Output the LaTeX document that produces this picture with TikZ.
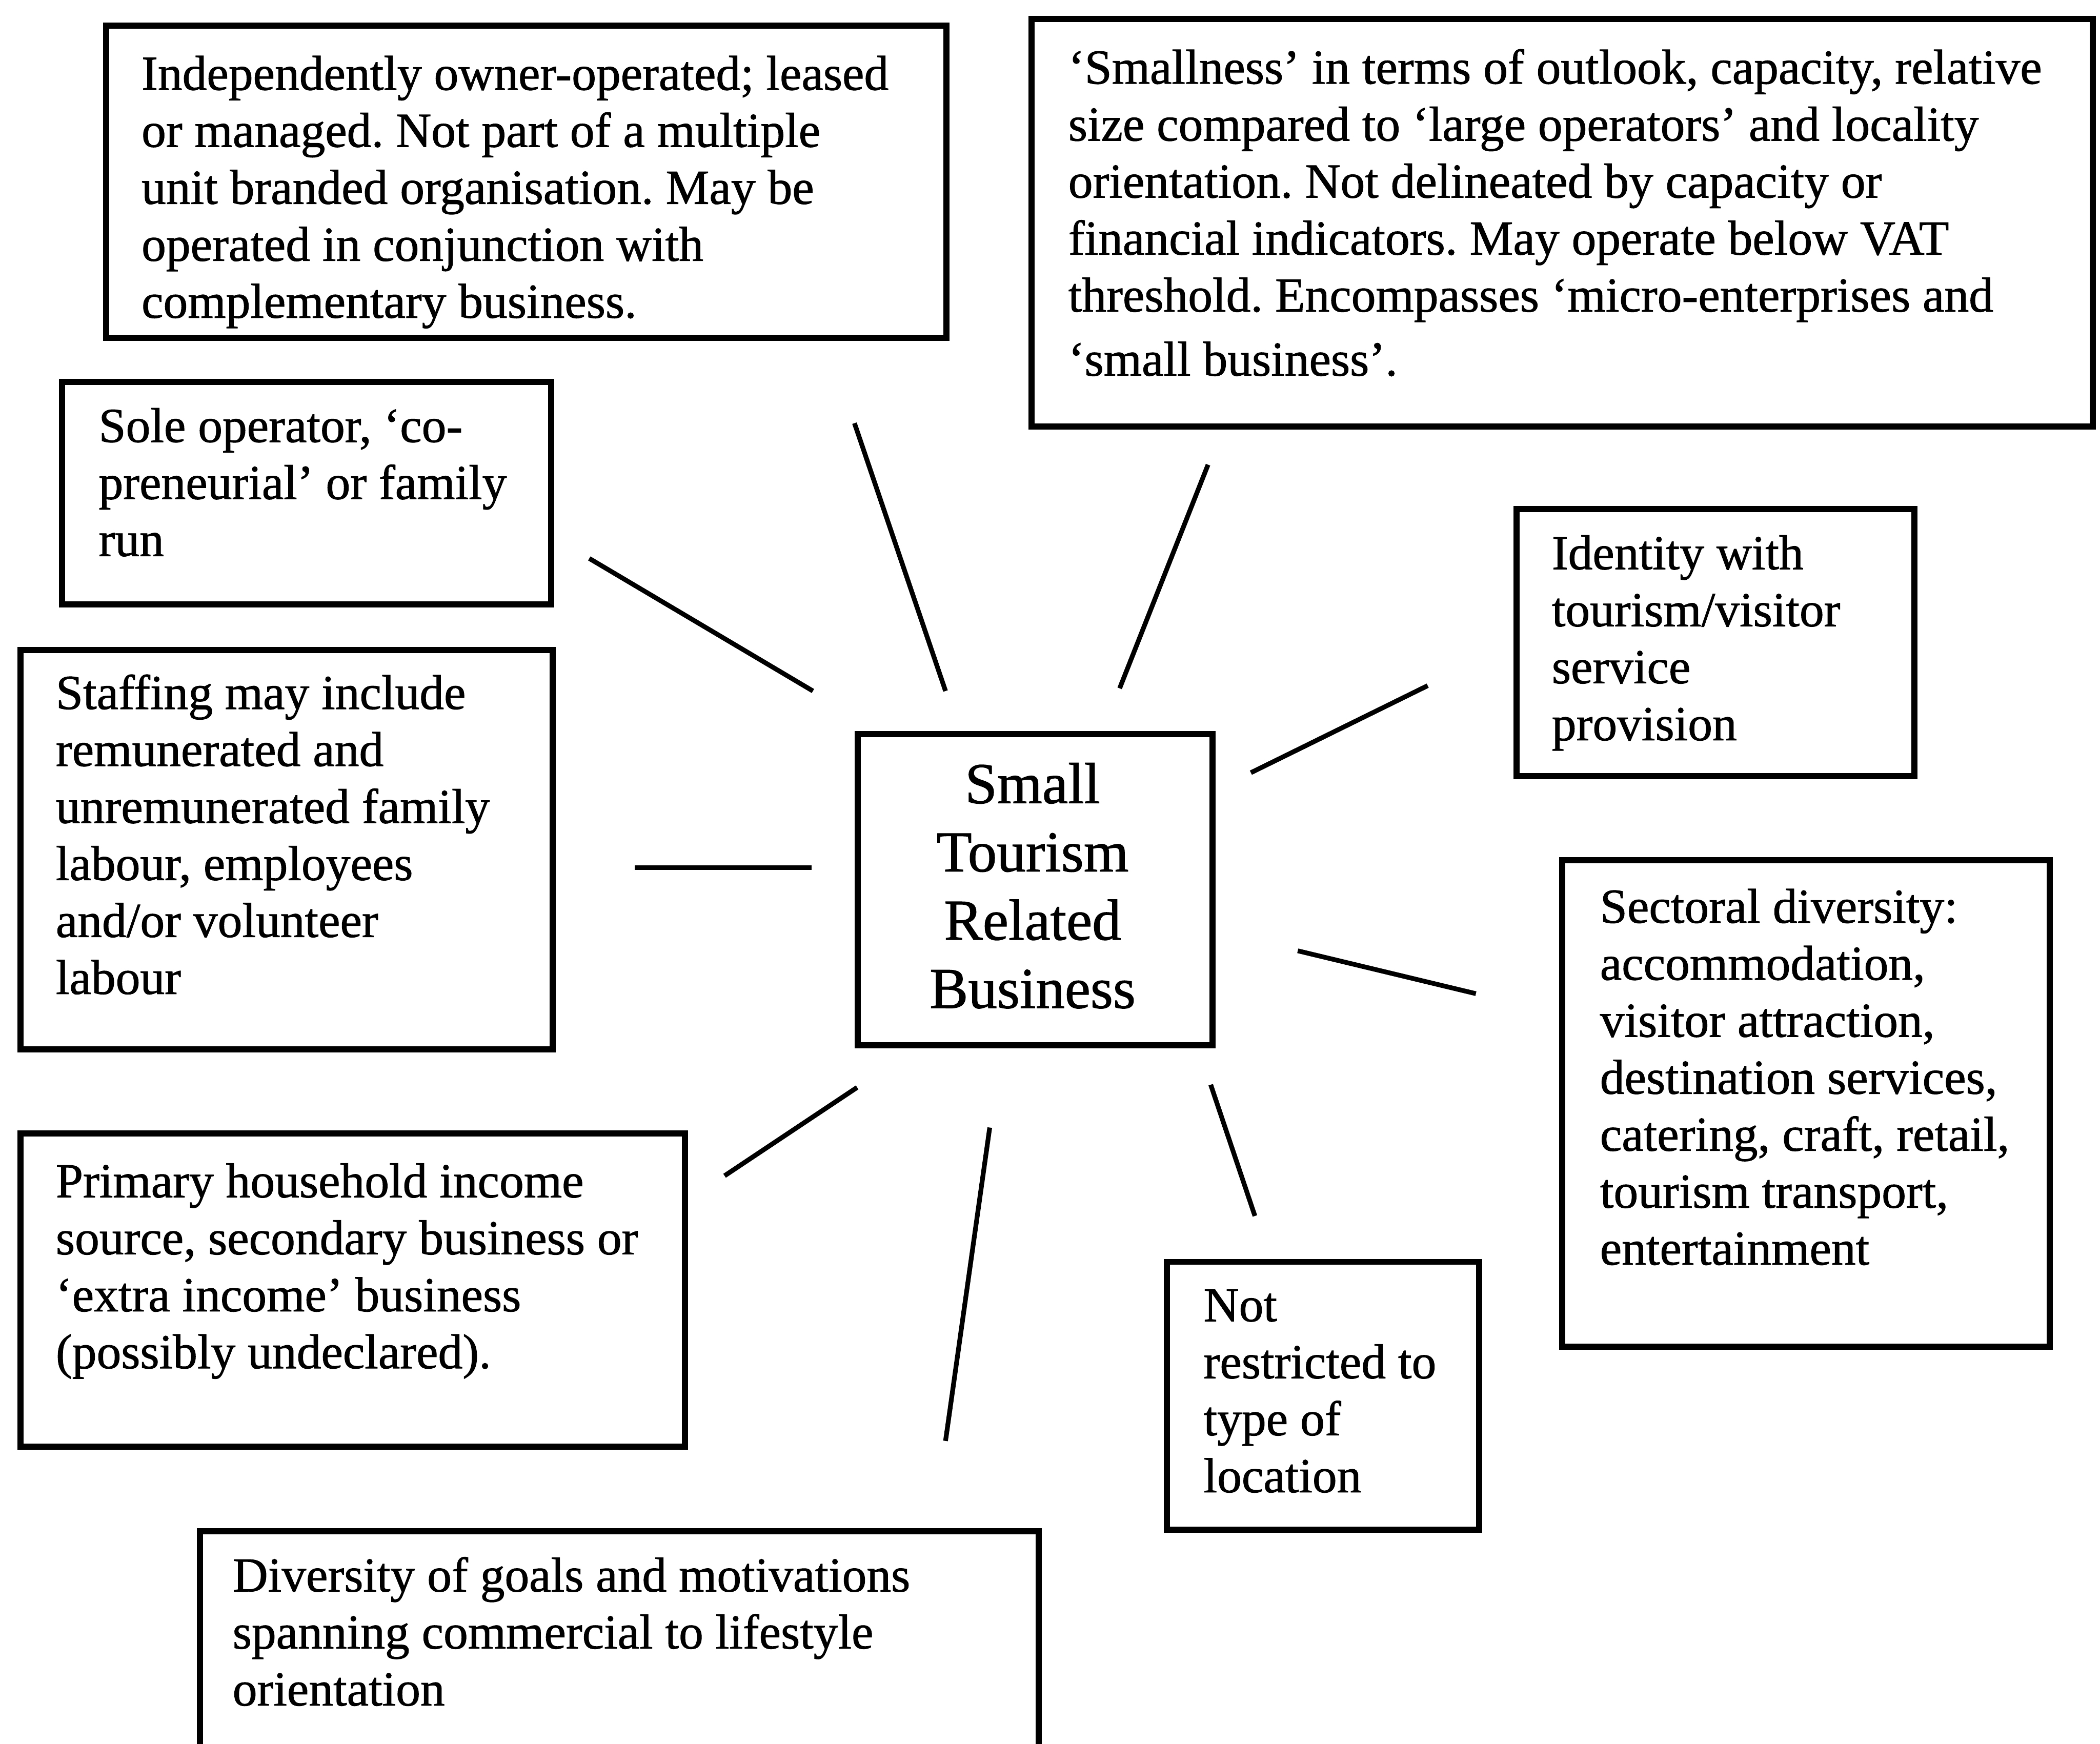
\documentclass[tikz,border=0pt]{standalone}
\usepackage{fontspec}
\setmainfont[FakeBold=1]{Liberation Serif}
\begin{document}
\frenchspacing
\begin{tikzpicture}[x=0.01cm,y=-0.01cm,
  box/.style={draw, line width=1.3pt, rectangle, inner sep=0pt, anchor=north west},
  txt/.style={anchor=north west, inner sep=0pt, align=left,
    font=\fontsize{10.4pt}{12.1pt}\selectfont\frenchspacing,
    execute at begin node={\rule{0pt}{8pt}}},
  coretxt/.style={anchor=north, inner sep=0pt, align=center,
    font=\fontsize{12.3pt}{14.5pt}\selectfont,
    execute at begin node={\rule{0pt}{10pt}}},
  spoke/.style={line width=1.0pt}]
\useasboundingbox (0,0) rectangle (1568,1302);
\clip (0,0) rectangle (1568,1302);

% frames
\node[box, minimum width=6.27cm, minimum height=2.33cm] (indep)   at (77,17)    {};
\node[box, minimum width=7.92cm, minimum height=3.04cm] (smallness) at (768,12) {};
\node[box, minimum width=3.65cm, minimum height=1.66cm] (sole)    at (44,283)   {};
\node[box, minimum width=3.97cm, minimum height=2.98cm] (staff)   at (13,483)   {};
\node[box, minimum width=2.65cm, minimum height=2.32cm] (core)    at (638,546)  {};
\node[box, minimum width=2.97cm, minimum height=1.99cm] (ident)   at (1130,378) {};
\node[box, minimum width=3.64cm, minimum height=3.63cm] (sector)  at (1164,640) {};
\node[box, minimum width=4.96cm, minimum height=2.34cm] (income)  at (13,844)   {};
\node[box, minimum width=2.33cm, minimum height=2.00cm] (loc)     at (869,940)  {};
\node[box, minimum width=6.26cm, minimum height=2.20cm] (goals)   at (147,1141) {};

% texts (top of first line box)
\node[txt] (indepT) at (105,41) {Independently owner-operated; leased\\
  or managed. Not part of a multiple\\ unit branded organisation. May be\\
  operated in conjunction with\\ complementary business.};
\node[txt] (smallnessT) at (797,36) {‘Smallness’ in terms of outlook, capacity, relative\\
  size compared to ‘large operators’ and locality\\
  orientation. Not delineated by capacity or\\
  financial indicators. May operate below VAT\\
  threshold. Encompasses ‘micro-enterprises and\\[1.5pt]
  ‘small business’.};
\node[txt] (soleT) at (73,304) {Sole operator, ‘co-\\ preneurial’ or family\\ run};
\node[txt] (staffT) at (41,503) {Staffing may include\\ remunerated and\\
  unremunerated family\\ labour, employees\\ and/or volunteer\\ labour};
\node[coretxt] (coreT) at (771,569) {Small\\ Tourism\\ Related\\ Business};
\node[txt] (identT) at (1158,399) {Identity with\\ tourism/visitor\\ service\\ provision};
\node[txt] (sectorT) at (1194,663) {Sectoral diversity:\\ accommodation,\\
  visitor attraction,\\ destination services,\\ catering, craft, retail,\\
  tourism transport,\\ entertainment};
\node[txt] (incomeT) at (41,868) {Primary household income\\
  source, secondary business or\\ ‘extra income’ business\\ (possibly undeclared).};
\node[txt] (locT) at (898,962) {Not\\ restricted to\\ type of\\ location};
\node[txt] (goalsT) at (173,1162) {Diversity of goals and motivations\\
  spanning commercial to lifestyle\\ orientation};

% spoke end points
\coordinate (a1) at (638,316);  \coordinate (a2) at (706,516);
\coordinate (b1) at (902,347);  \coordinate (b2) at (836,514);
\coordinate (c1) at (440,417);  \coordinate (c2) at (607,516);
\coordinate (d1) at (474,648);  \coordinate (d2) at (606,648);
\coordinate (e1) at (934,577);  \coordinate (e2) at (1066,512);
\coordinate (f1) at (969,710);  \coordinate (f2) at (1102,742);
\coordinate (g1) at (640,812);  \coordinate (g2) at (541,878);
\coordinate (h1) at (739,842);  \coordinate (h2) at (706,1076);
\coordinate (k1) at (904,810);  \coordinate (k2) at (937,908);

\draw[spoke] (a1) -- (a2);
\draw[spoke] (b1) -- (b2);
\draw[spoke] (c1) -- (c2);
\draw[spoke] (d1) -- (d2);
\draw[spoke] (e1) -- (e2);
\draw[spoke] (f1) -- (f2);
\draw[spoke] (g1) -- (g2);
\draw[spoke] (h1) -- (h2);
\draw[spoke] (k1) -- (k2);
\end{tikzpicture}
\end{document}
